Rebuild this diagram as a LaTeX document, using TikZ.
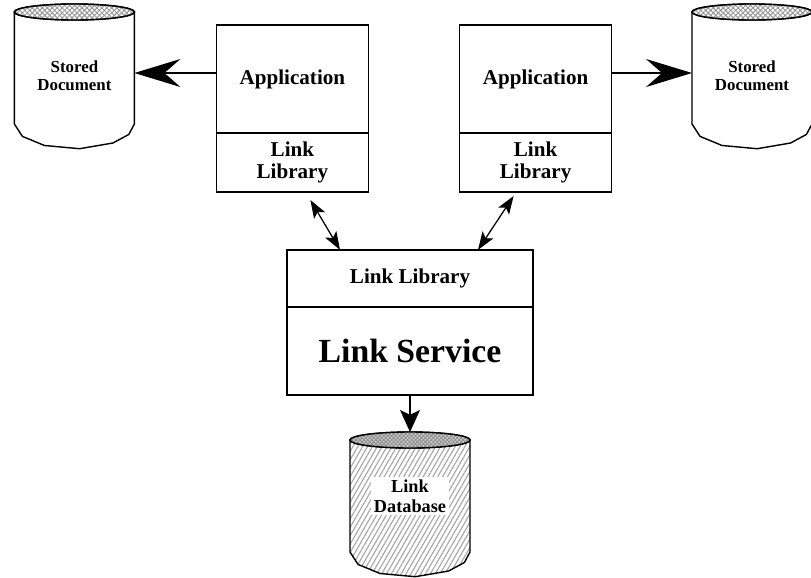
\documentclass[tikz,border=0pt]{standalone}
\usepackage{fontspec}
\setmainfont{Liberation Serif}
\usetikzlibrary{positioning,arrows.meta,patterns.meta}

\tikzset{
  part/.style={draw, line width=1.1pt, outer sep=0pt, minimum width=3.8cm, align=center, font=\bfseries\fontsize{15}{16}\selectfont},
  drum/.style={minimum width=3cm, minimum height=2.8cm, outer sep=0pt, align=center, font=\bfseries\fontsize{12}{13}\selectfont},
  bigtip/.style={line width=0.9pt, -{Stealth[length=1.15cm,width=0.7cm,inset=0.4cm]}},
  duplex/.style={line width=0.9pt, {Stealth[length=0.45cm,width=0.32cm,inset=0.1cm]}-{Stealth[length=0.45cm,width=0.32cm,inset=0.1cm]}},
  downtip/.style={line width=0.9pt, -{Stealth[length=0.55cm,width=0.5cm,inset=0.12cm]}},
}

% cylinder round a drum node: #1 node, #2 body fill, #3 lid fill
\newcommand{\drumshape}[3]{
  \draw[line width=1pt, #2] (#1.north west) -- (#1.south west)
    -- ([shift={(#1.south)}]210:1.5cm and 0.62cm)
    -- ([shift={(#1.south)}]240:1.5cm and 0.62cm)
    -- ([shift={(#1.south)}]275:1.5cm and 0.62cm)
    -- ([shift={(#1.south)}]310:1.5cm and 0.62cm)
    -- ([shift={(#1.south)}]335:1.5cm and 0.62cm)
    -- (#1.south east) -- (#1.north east) -- cycle;
  \draw[line width=1pt, fill=white] (#1.north) ellipse[x radius=1.5cm, y radius=0.2cm];
  \draw[line width=1pt, #3] (#1.north) ellipse[x radius=1.5cm, y radius=0.2cm];
}

\begin{document}
\begin{tikzpicture}
\useasboundingbox (0,0) rectangle (20.275,-14.425);

% applications with their link libraries
\node[part, minimum height=2.7cm] (lapp) at (7.31,-1.975) {Application};
\node[part, minimum height=1.475cm, below=0pt of lapp] (llib) {Link\\Library};
\node[part, minimum height=2.7cm] (rapp) at (13.39,-1.975) {Application};
\node[part, minimum height=1.475cm, below=0pt of rapp] (rlib) {Link\\Library};

% link service
\node[part, minimum width=6.15cm, minimum height=1.425cm] (clib) at (10.25,-6.96) {Link Library};
\node[part, minimum width=6.15cm, minimum height=2.2cm, below=0pt of clib,
      font=\bfseries\fontsize{24}{26}\selectfont] (csvc) {Link Service};

% stores
\node[drum] (ldoc) at (1.86,-1.7) {};
\node[drum] (rdoc) at (18.8,-1.7) {};
\node[drum] (db) at (10.25,-12.4) {};
\drumshape{ldoc}{fill=white}{pattern={Hatch[angle=45,distance=2.5pt,line width=0.7pt]}, pattern color=gray!80}
\drumshape{rdoc}{fill=white}{pattern={Hatch[angle=45,distance=2.5pt,line width=0.7pt]}, pattern color=gray!80}
\drumshape{db}{pattern={Lines[angle=60,distance=3pt,line width=0.8pt]}, pattern color=gray!70}{preaction={fill=gray!40}, pattern={Hatch[angle=45,distance=2pt,line width=0.6pt]}, pattern color=gray!90}
\node[drum, yshift=-0.2cm] at (ldoc) {Stored\\Document};
\node[drum, yshift=-0.2cm] at (rdoc) {Stored\\Document};
\node[drum, minimum width=0pt, minimum height=0pt, fill=white, inner sep=2pt, font=\bfseries\fontsize{13}{14}\selectfont] at (db) {Link\\Database};

% connectors
\coordinate (lout) at ([yshift=0.15cm]lapp.west);
\coordinate (rout) at ([yshift=0.15cm]rapp.east);
\draw[bigtip] (lout) -- (lout -| ldoc.east);
\draw[bigtip] (rout) -- (rout -| rdoc.west);
\draw[duplex] ([xshift=0.45cm,yshift=-0.2cm]llib.south) -- ([xshift=-1.75cm]clib.north);
\draw[duplex] ([xshift=-0.55cm,yshift=-0.1cm]rlib.south) -- ([xshift=1.7cm]clib.north);
\draw[downtip] (csvc.south) -- ([yshift=0.2cm]db.north);
\end{tikzpicture}
\end{document}
